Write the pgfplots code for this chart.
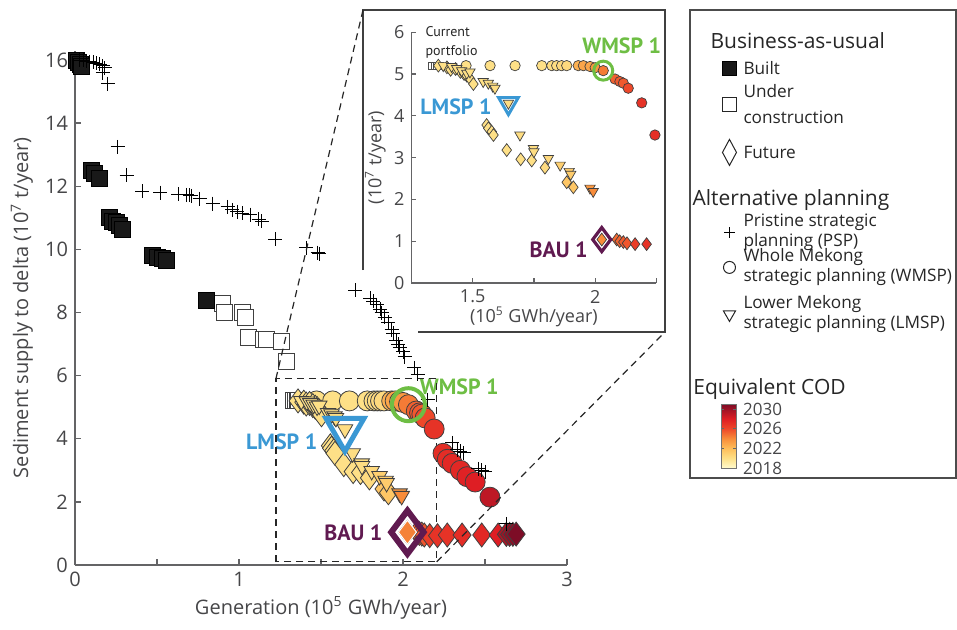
\documentclass[border=0pt]{standalone}
\usepackage{fontspec}
\setmainfont{Open Sans}
\newfontfamily\ptsans{PT Sans}
\usepackage{pgfplots}
\usepackage{pgfplotstable}
\pgfplotsset{compat=1.18}
\pgfkeys{/pgf/number format/assume math mode=true,/pgf/number format/1000 sep={}}
\definecolor{wgreen}{RGB}{110,190,68}
\definecolor{lblue}{RGB}{58,152,212}
\definecolor{bpurple}{RGB}{96,26,80}
\definecolor{axgray}{RGB}{100,100,102}
\definecolor{txtgray}{RGB}{70,70,72}
\pgfplotsset{colormap={cod}{rgb255(0pt)=(255,251,205); rgb255(2pt)=(254,224,135); rgb255(4pt)=(254,190,90); rgb255(6pt)=(248,140,58); rgb255(8pt)=(238,72,42); rgb255(10pt)=(222,30,36); rgb255(13pt)=(125,12,38)}}
\newcommand{\lrow}[2]{\begin{minipage}[c][#1][c]{125pt}\fontsize{8.6}{10}\selectfont\raggedright #2\end{minipage}}
\newcommand{\lhead}[3]{\begin{minipage}[c][#1][c]{125pt}\fontsize{10.5}{12}\selectfont\hspace*{#2}#3\end{minipage}}

\pgfplotstableread{
x y
0.01 16.00
0.02 15.92
0.03 15.85
0.04 15.80
0.10 12.50
0.12 12.40
0.15 12.25
0.21 11.00
0.23 10.90
0.25 10.85
0.27 10.75
0.29 10.65
0.47 9.80
0.50 9.75
0.53 9.70
0.56 9.65
0.80 8.40
}\built
\pgfplotstableread{
x y
0.90 8.30
0.91 8.00
1.02 8.00
1.04 7.85
1.06 7.20
1.15 7.15
1.17 7.13
1.26 7.07
1.29 6.46
1.335 5.20
1.345 5.20
1.355 5.20
1.365 5.20
}\uc
\pgfplotstableread{
x y
0.03 16.00
0.05 16.00
0.07 15.97
0.09 15.95
0.11 15.93
0.13 15.90
0.15 15.87
0.17 15.82
0.18 15.75
0.17 15.60
0.20 15.25
0.26 13.25
0.315 12.35
0.41 11.85
0.52 11.80
0.63 11.75
0.68 11.73
0.70 11.72
0.71 11.70
0.76 11.60
0.84 11.45
0.93 11.35
0.96 11.25
0.99 11.20
1.02 11.15
1.07 11.10
1.12 10.95
1.14 10.90
1.22 10.33
1.41 10.05
1.48 9.90
1.49 9.87
1.71 8.70
1.80 8.45
1.82 8.35
1.84 8.25
1.86 8.10
1.87 8.00
1.89 7.85
1.91 7.70
1.93 7.45
1.94 7.35
1.96 7.10
1.97 7.00
1.98 6.90
2.00 6.75
2.01 6.60
2.07 6.25
2.09 6.05
2.15 5.23
2.30 3.87
2.33 3.65
2.35 3.60
2.37 3.55
2.46 3.05
2.48 3.00
2.50 2.95
2.63 1.30
}\psp
\pgfplotstableread{
x y c
1.473 5.20 2020
1.571 5.20 2020
1.673 5.20 2020
1.782 5.20 2020
1.823 5.20 2020.2
1.843 5.20 2020.2
1.863 5.20 2020.4
1.884 5.20 2020.4
1.931 5.20 2022.5
1.952 5.20 2023
1.979 5.18 2023
2.000 5.15 2023.5
2.033 5.08 2024.5
2.081 4.88 2025.3
2.101 4.82 2025.5
2.115 4.78 2025.5
2.135 4.66 2026
2.190 4.31 2027
2.244 3.54 2027.2
2.270 3.35 2027.3
2.300 3.22 2027.5
2.350 3.00 2027.5
2.390 2.80 2027.8
2.440 2.63 2028
2.530 2.15 2029
}\wmsp
\pgfplotstableread{
x y c
1.360 5.20 2020
1.395 5.16 2020
1.410 5.10 2020
1.430 5.12 2020
1.450 5.05 2020
1.465 5.00 2020
1.476 4.96 2020
1.490 4.88 2020
1.503 4.76 2020
1.557 3.78 2020
1.564 3.70 2020
1.578 3.62 2020
1.585 3.54 2020
1.639 3.18 2020
1.696 2.96 2020
1.741 2.93 2020
1.795 2.76 2020.3
1.884 2.41 2021.5
1.911 2.29 2021.5
2.027 1.04 2024
2.088 1.04 2025
2.100 1.00 2025.2
2.115 0.98 2025.4
2.130 0.95 2025.6
2.163 0.93 2026.5
2.210 0.93 2027
2.270 0.95 2027
2.360 0.95 2027.3
2.480 0.95 2027.5
2.580 0.95 2028
2.630 0.97 2029.5
2.650 0.97 2030
2.670 0.97 2030.5
2.690 0.98 2031
}\bau
\pgfplotstableread{
x y c
1.380 5.20 2020
1.414 5.18 2020
1.435 5.13 2020
1.455 5.08 2020
1.476 5.02 2020
1.489 5.05 2020
1.543 4.82 2020
1.564 4.78 2020
1.582 4.71 2020
1.591 4.66 2020.2
1.646 4.30 2020.2
1.693 3.54 2020.2
1.748 3.22 2020.2
1.750 3.14 2020.2
1.809 2.98 2020.4
1.857 2.82 2021
1.894 2.67 2021.2
1.900 2.60 2021.2
1.979 2.27 2023.5
1.992 2.19 2024
}\lmsp

\pgfplotsset{
  codsc/.style={scatter, only marks, scatter src=explicit, forget plot,
    scatter/use mapped color={draw=black!75, fill=mapped color}},
  every axis/.append style={/pgf/number format/assume math mode=true}
}

\begin{document}
\begin{tikzpicture}
\useasboundingbox (0,0) rectangle (478.5pt,314.5pt);
% the legend position is given relative to the main axis' shift
\coordinate (legpos) at (318.5pt,268.5pt);
\coordinate (cbpos) at (360.5pt,112.5pt);

% ---------------- main axis ----------------
\begin{axis}[
  at={(37.5pt,32pt)}, anchor=south west, scale only axis,
  width=246pt, height=257.2pt,
  xmin=0, xmax=3, ymin=0, ymax=16.3,
  axis x line=bottom, axis y line=left,
  axis line style={-, axgray, line width=0.9pt},
  tick align=inside, major tick length=2.8pt, minor tick length=2.8pt,
  tick style={axgray, line width=0.7pt},
  xtick={0,1,2,3}, minor xtick={0.5,1.5,2.5}, ytick={0,2,...,16},
  ticklabel style={font=\fontsize{10}{12}\selectfont, text=txtgray},
  xlabel={Generation (10\textsuperscript{5} GWh/year)},
  ylabel={Sediment supply to delta (10\textsuperscript{7} t/year)},
  label style={font=\fontsize{10}{12}\selectfont, text=txtgray},
  xlabel style={at={(axis description cs:0.5,-0.0836)}, anchor=center},
  ylabel style={at={(axis description cs:-0.1077,0.5)}, anchor=center},
  clip=false,
  colormap name=cod, point meta min=2018, point meta max=2031,
  colorbar,
  colorbar shift/.style={xshift=0pt},
  colorbar style={at={(cbpos)}, anchor=north west, width=7.5pt, height=32pt, scale only axis,
    ytick={2018,2022,2026,2030},
    yticklabel style={font=\fontsize{8.5}{10}\selectfont, text=txtgray},
    axis line style={black!55, line width=0.5pt},
    major tick length=1.5pt, tick style={black!60, line width=0.4pt},
    /pgf/number format/1000 sep={}, /pgf/number format/assume math mode=true},
  legend style={at={(legpos)}, anchor=north west, draw=none, fill=none,
    inner sep=0pt, column sep=3.5pt, row sep=0pt,
    nodes={inner sep=0pt, text depth=, text height=, text=black!85}},
  legend cell align=left,
]
\addplot[only marks, mark=square*, mark size=4pt, mark options={draw=black!75, fill=white, line width=0.5pt}, forget plot] table[x=x,y=y] {\uc};
\addplot[only marks, mark=square*, mark size=4pt, mark options={draw=black, fill=black!90}, forget plot] table[x=x,y=y] {\built};
\addplot[codsc, mark=*, mark size=5pt, mark options={line width=0.4pt}] table[x=x,y=y,meta=c] {\wmsp};
\addplot[codsc, mark=diamond*, mark size=6pt, mark options={line width=0.4pt}] table[x=x,y=y,meta=c] {\bau};
\addplot[codsc, mark=triangle*, mark size=4.5pt, mark options={rotate=180, line width=0.4pt}] table[x=x,y=y,meta=c] {\lmsp};
\addplot[only marks, mark=+, mark size=3.5pt, mark options={draw=black, line width=0.5pt}, forget plot] table[x=x,y=y] {\psp};
% highlights
\addplot[only marks, mark=o, mark size=8.25pt, mark options={draw=wgreen, line width=2pt}, forget plot] coordinates {(2.033,5.08)};
\addplot[only marks, mark=triangle, mark size=11pt, mark options={rotate=180, draw=lblue, line width=2.5pt}, forget plot] coordinates {(1.646,4.30)};
\addplot[only marks, mark=diamond, mark size=10.8pt, mark options={draw=bpurple, line width=3pt}, forget plot] coordinates {(2.027,1.04)};
\addplot[only marks, mark=diamond*, mark size=6pt, mark options={draw=white, fill={rgb,255:red,245;green,130;blue,55}, line width=0.5pt}, forget plot] coordinates {(2.027,1.04)};
\node[anchor=west, inner sep=0pt, text=wgreen, font=\ptsans\bfseries\fontsize{11}{13}\selectfont] at (axis cs:2.10,5.64) {WMSP 1};
\node[anchor=east, inner sep=0pt, text=lblue, font=\ptsans\bfseries\fontsize{11}{13}\selectfont] at (axis cs:1.48,3.9) {LMSP 1};
\node[anchor=east, inner sep=0pt, text=bpurple, font=\ptsans\bfseries\fontsize{11}{13}\selectfont] at (axis cs:1.877,1.01) {BAU 1};
\draw[black!85, line width=0.6pt, dash pattern=on 3.5pt off 2.5pt] (axis cs:1.225,0.1) rectangle (axis cs:2.205,5.9);
\coordinate (rTL) at (axis cs:1.225,5.9);
\coordinate (rBR) at (axis cs:2.205,0.1);
% legend
\addlegendimage{empty legend}
\addlegendentry{\lhead{12pt}{-16.5pt}{Business-as-usual}}
\addlegendimage{only marks, mark=square*, mark size=3.3pt, mark options={draw=black, fill=black!90}}
\addlegendentry{\lrow{16pt}{Built}}
\addlegendimage{only marks, mark=square, mark size=3.3pt, mark options={draw=black!85, line width=0.5pt}}
\addlegendentry{\lrow{20pt}{Under\\[3pt]construction}}
\addlegendimage{only marks, mark=diamond, mark size=6.5pt, mark options={draw=black!85, xscale=0.72, line width=0.5pt}}
\addlegendentry{\lrow{28pt}{Future}}
\addlegendimage{empty legend}
\addlegendentry{\lhead{20pt}{-25.5pt}{Alternative planning}}
\addlegendimage{only marks, mark=+, mark size=2.6pt, mark options={draw=black, line width=0.4pt}}
\addlegendentry{\lrow{12pt}{Pristine strategic\\planning (PSP)}}
\addlegendimage{only marks, mark=o, mark size=3pt, mark options={draw=black!85, line width=0.5pt}}
\addlegendentry{\lrow{23pt}{Whole Mekong\\strategic planning (WMSP)}}
\addlegendimage{only marks, mark=triangle, mark size=3.5pt, mark options={rotate=180, draw=black!85, line width=0.5pt}}
\addlegendentry{\lrow{24pt}{Lower Mekong\\strategic planning (LMSP)}}
\end{axis}

% ---------------- inset axis ----------------
\begin{axis}[
  at={(205.7pt,173pt)}, anchor=south west, scale only axis,
  width=122.5pt, height=125.4pt,
  xmin=1.25, xmax=2.25, ymin=0, ymax=6,
  restrict x to domain=1.25:2.26, restrict y to domain=0:6.1,
  axis x line=bottom, axis y line=left,
  axis line style={-, axgray, line width=0.8pt},
  tick align=inside, major tick length=2.5pt, minor tick length=2.5pt,
  tick style={axgray, line width=0.6pt},
  xtick={1.5,2}, minor xtick={1.75,2.25}, ytick={0,1,...,6},
  ticklabel style={font=\fontsize{9}{10}\selectfont, text=txtgray},
  xlabel={(10\textsuperscript{5} GWh/year)},
  ylabel={(10\textsuperscript{7} t/year)},
  label style={font=\fontsize{9}{11}\selectfont, text=txtgray},
  xlabel style={at={(axis description cs:0.5,-0.1356)}, anchor=center},
  ylabel style={at={(axis description cs:-0.147,0.5)}, anchor=center},
  clip=false,
  colormap name=cod, point meta min=2018, point meta max=2031,
]
\addplot[only marks, mark=square*, mark size=1.8pt, mark options={draw=black!70, fill=white, line width=0.4pt}, forget plot] table[x=x,y=y] {\uc};
\addplot[codsc, mark=*, mark size=2.6pt, mark options={line width=0.35pt}] table[x=x,y=y,meta=c] {\wmsp};
\addplot[codsc, mark=diamond*, mark size=3.2pt, mark options={line width=0.35pt}] table[x=x,y=y,meta=c] {\bau};
\addplot[codsc, mark=triangle*, mark size=3pt, mark options={rotate=180, line width=0.35pt}] table[x=x,y=y,meta=c] {\lmsp};
\addplot[only marks, mark=o, mark size=4.75pt, mark options={draw=wgreen, line width=1.5pt}, forget plot] coordinates {(2.033,5.08)};
\addplot[only marks, mark=triangle, mark size=5.7pt, mark options={rotate=180, draw=lblue, line width=1.5pt}, forget plot] coordinates {(1.646,4.30)};
\addplot[only marks, mark=diamond, mark size=6pt, mark options={draw=bpurple, line width=1.6pt}, forget plot] coordinates {(2.027,1.04)};
\node[anchor=west, inner sep=0pt, text=wgreen, font=\ptsans\bfseries\fontsize{11}{13}\selectfont] at (axis cs:1.946,5.67) {WMSP 1};
\node[anchor=east, inner sep=0pt, text=lblue, font=\ptsans\bfseries\fontsize{11}{13}\selectfont] at (axis cs:1.579,4.21) {LMSP 1};
\node[anchor=east, inner sep=0pt, text=bpurple, font=\ptsans\bfseries\fontsize{11}{13}\selectfont] at (axis cs:1.971,0.79) {BAU 1};
\node[anchor=west, align=left, inner sep=0pt, font=\ptsans\fontsize{7}{9.5}\selectfont, text=black!85] at (axis cs:1.306,5.75) {Current\\portfolio};
\end{axis}

% inset frame (partly open at lower left, as in the figure)
\draw[black!75, line width=0.7pt] (181.5pt,179.5pt) -- (181.5pt,309.5pt) -- (332.5pt,309.5pt) -- (332.5pt,148.5pt) -- (209pt,148.5pt);
\draw[black!85, line width=0.6pt, dash pattern=on 3.5pt off 2.5pt] (rTL) -- (181.5pt,309.5pt);
\draw[black!85, line width=0.6pt, dash pattern=on 3.5pt off 2.5pt] (rBR) -- (332.5pt,148.5pt);

% legend frame and colour-scale title
\draw[black!70, line width=0.6pt] (345pt,309.5pt) rectangle (478pt,75.5pt);
\node[anchor=west, inner sep=0pt, font=\fontsize{10.5}{12}\selectfont, text=black!85] at (346.5pt,120pt) {Equivalent COD};
\end{tikzpicture}
\end{document}
